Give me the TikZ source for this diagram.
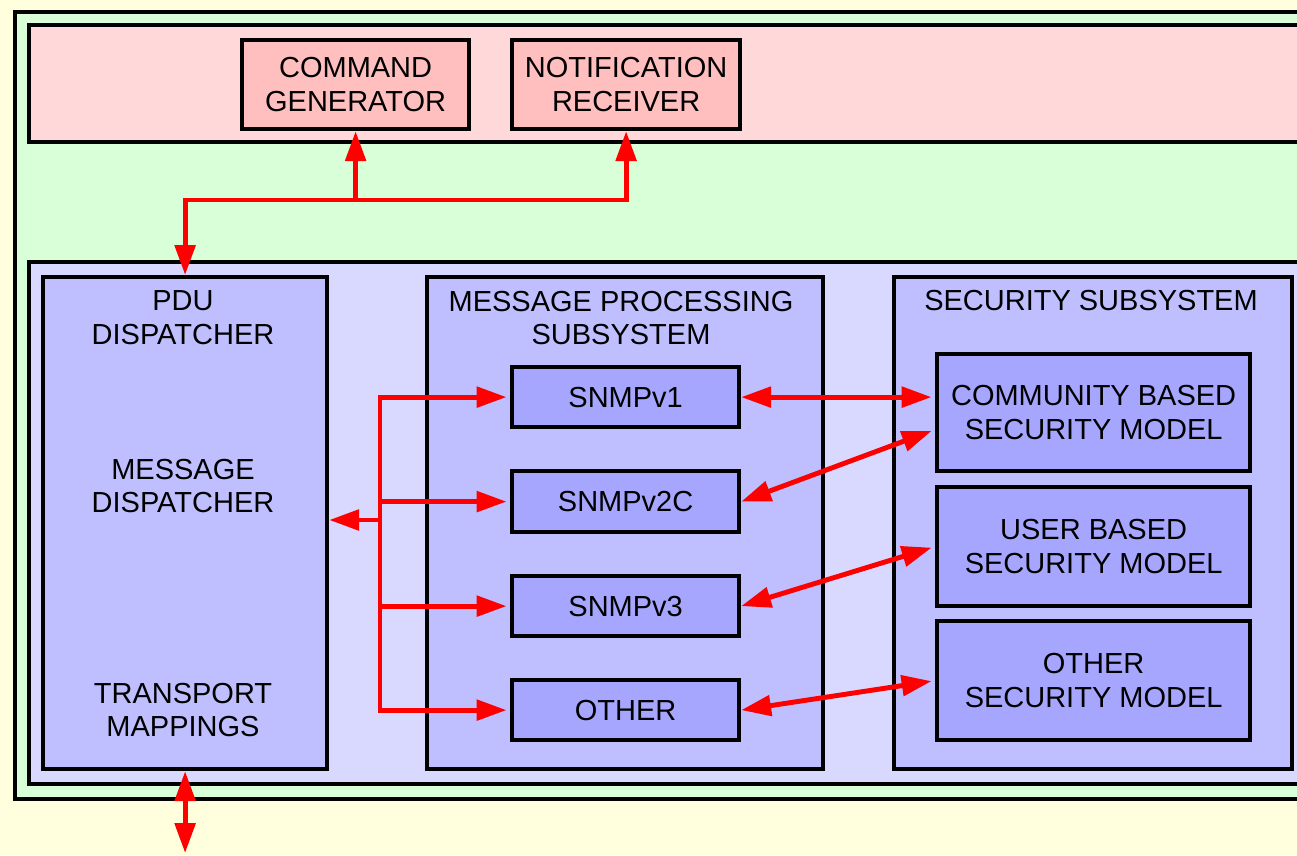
\documentclass[tikz,border=0pt]{standalone}
\usepackage{fontspec}
\setmainfont{Liberation Sans}
\usetikzlibrary{arrows.meta,calc,positioning}

\definecolor{paper}{RGB}{255,255,221}
\definecolor{hostgreen}{RGB}{217,255,217}
\definecolor{apppink}{RGB}{255,217,217}
\definecolor{approse}{RGB}{255,191,191}
\definecolor{enginelav}{RGB}{217,217,255}
\definecolor{subblue}{RGB}{191,191,255}
\definecolor{modblue}{RGB}{166,166,255}

\begin{document}
\begin{tikzpicture}[x=0.02cm,y=-0.02cm,
    frame/.style={draw,line width=2.4pt,inner sep=0pt,anchor=north west},
    sized/.style 2 args={minimum width=#1*0.02cm,minimum height=#2*0.02cm},
    txt/.style={align=center,font=\fontsize{16.5}{19.2}\selectfont},
    app/.style={frame,fill=approse,txt},
    model/.style={frame,fill=modblue,txt},
    lbl/.style={txt,inner sep=0pt},
    link/.style={draw=red,line width=2.8pt,arrows={-Triangle[length=17pt,width=11.5pt]}},
    dlink/.style={link,arrows={Triangle[length=17pt,width=11.5pt]-Triangle[length=17pt,width=11.5pt]}}]

  \clip (0,0) rectangle (1297,855);
  \fill[paper] (0,0) rectangle (1297,855);

  % host, applications and engine
  \node[frame,fill=hostgreen,sized={1330}{787}] (host) at (13,10) {};
  \node[frame,fill=apppink,sized={1300}{117}] (apps) at (27,23) {};
  \node[app,sized={227}{89}] (cmdgen) at (240,38) {COMMAND\\GENERATOR};
  \node[app,sized={228}{89}] (notrec) at (510,38) {NOTIFICATION\\RECEIVER};
  \node[frame,fill=enginelav,sized={1300}{522}] (engine) at (27,260) {};

  % subsystems
  \node[frame,fill=subblue,sized={284}{492}] (pdu) at (41,275) {};
  \node[frame,fill=subblue,sized={396}{492}] (mps) at (425,275) {};
  \node[frame,fill=subblue,sized={398}{492}] (secsub) at (892,275) {};

  \node[lbl] (pdulbl) at (183,318) {PDU\\DISPATCHER};
  \node[lbl] (msgdisp) at (183,486) {MESSAGE\\DISPATCHER};
  \node[lbl] (transp) at (183,710) {TRANSPORT\\MAPPINGS};
  \node[lbl] (mpslbl) at (621,318) {MESSAGE PROCESSING\\SUBSYSTEM};
  \node[lbl] (seclbl) at (1091,301) {SECURITY SUBSYSTEM};

  % models
  \node[model,sized={227}{60}] (v1) at (510,365) {SNMPv1};
  \node[model,sized={227}{61}] (v2c) at (510,469) {SNMPv2C};
  \node[model,sized={227}{60}] (v3) at (510,574) {SNMPv3};
  \node[model,sized={227}{60}] (oth) at (510,678) {OTHER};

  \node[model,sized={313}{117}] (comm) at (935,352) {COMMUNITY BASED\\SECURITY MODEL};
  \node[model,sized={313}{119}] (user) at (935,485) {USER BASED\\SECURITY MODEL};
  \node[model,sized={313}{119}] (othsec) at (935,619) {OTHER\\SECURITY MODEL};

  % connectors
  \coordinate (bus) at (pdu.north |- 0,200);
  \coordinate (fork) at (380,520);
  \coordinate (wire) at (pdu.south |- 0,853);

  \draw[dlink] (notrec.south) |- (bus) -- (pdu.north);
  \draw[link] (cmdgen.south |- bus) -- (cmdgen.south);

  \draw[link] (fork) -- (fork -| pdu.east);
  \draw[link,shorten >=2pt] (fork) |- (v1.west);
  \draw[link,shorten >=2pt] (fork) |- (v2c.west);
  \draw[link,shorten >=2pt] (fork) |- (v3.west);
  \draw[link,shorten >=2pt] (fork) |- (oth.west);

  \draw[dlink,shorten >=2pt] (v1.east) -- (v1.east -| comm.west);
  \draw[dlink,shorten >=2pt] (v2c.east) -- ($(comm.south west)!0.36!(comm.north west)$);
  \draw[dlink,shorten >=2pt] (v3.east) -- (user.west);
  \draw[dlink,shorten >=2pt] (oth.east) -- (othsec.west);

  \draw[dlink] (pdu.south) -- (wire);

\end{tikzpicture}
\end{document}
